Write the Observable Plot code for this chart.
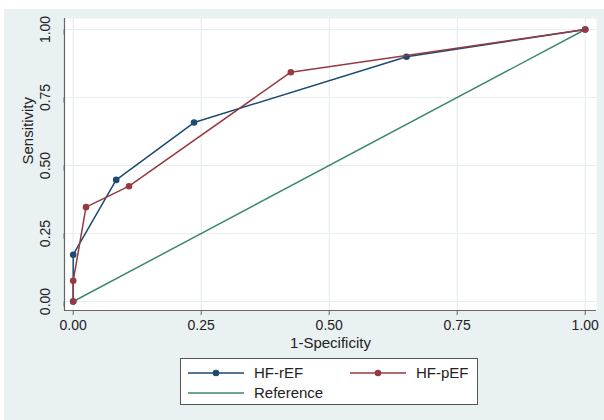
<!DOCTYPE html>
<html>
<head>
<meta charset="utf-8">
<script src="https://cdn.jsdelivr.net/npm/d3@7"></script>
<script src="https://cdn.jsdelivr.net/npm/@observablehq/plot@0.6"></script>
<style>
  html, body { margin: 0; padding: 0; background: #ffffff; }
  #wrap { position: relative; width: 604px; height: 420px; overflow: hidden; background: #ffffff; font-family: "Liberation Sans", Arial, sans-serif; }
  #bg { position: absolute; left: 4px; top: 9px; right: 0; bottom: 0; background: #e9f1f3; }
  #chart { position: absolute; left: 0; top: 0; }
  #legend { position: absolute; left: 180px; top: 358px; width: 296px; height: 45px; border: 1px solid #555; background: #ffffff; }
  .item { position: absolute; height: 20px; }
  .item svg { position: absolute; left: 0; top: 0; }
  .item span { position: absolute; top: 1px; font-size: 15px; color: #222; white-space: nowrap; }
</style>
</head>
<body>
<div id="wrap">
  <div id="bg"></div>
  <div id="chart"></div>
  <div id="legend"></div>
</div>
<script>
// ---- data ----
const seriesNames = ["HF-rEF", "HF-pEF", "Reference"];
const rEF_fpr  = [0, 0, 0.084, 0.236, 0.651, 1];
const rEF_sens = [0, 0.172, 0.447, 0.658, 0.900, 1];
const pEF_fpr  = [0, 0, 0.025, 0.109, 0.425, 1];
const pEF_sens = [0, 0.076, 0.347, 0.424, 0.843, 1];
const ref_x = [0, 1];
const ref_y = [0, 1];
const xTicks = [0, 0.25, 0.5, 0.75, 1];
const yTicks = [0, 0.25, 0.5, 0.75, 1];
const xTitle = "1-Specificity";
const yTitle = "Sensitivity";

// ---- styles ----
const colors = {"HF-rEF": "#1b4a72", "HF-pEF": "#943a40", "Reference": "#3d8a6c"};
const font = "'Liberation Sans', Arial, sans-serif";

const rEF = rEF_fpr.map((x, i) => ({x, y: rEF_sens[i]}));
const pEF = pEF_fpr.map((x, i) => ({x, y: pEF_sens[i]}));
const ref = ref_x.map((x, i) => ({x, y: ref_y[i]}));

const xDomain = [-0.017, 1.022];
const yDomain = [-0.033, 1.0404];
const fmt = d3.format(".2f");

const chart = Plot.plot({
  width: 604,
  height: 352,
  marginLeft: 64,
  marginRight: 8,
  marginTop: 18,
  marginBottom: 42,
  style: {background: "transparent", fontFamily: font, color: "#222"},
  x: {domain: xDomain},
  y: {domain: yDomain},
  marks: [
    Plot.frame({fill: "white", stroke: null}),
    Plot.gridX(xTicks, {stroke: "#e6eef1", strokeOpacity: 1, strokeWidth: 1.2}),
    Plot.gridY(yTicks, {stroke: "#e6eef1", strokeOpacity: 1, strokeWidth: 1.2}),
    Plot.ruleX([xDomain[0]], {stroke: "#666", strokeWidth: 1.2}),
    Plot.ruleY([yDomain[0]], {stroke: "#666", strokeWidth: 1.2}),
    Plot.axisX({ticks: xTicks, tickFormat: fmt, tickSize: 5, tickPadding: 5, fontSize: 14, stroke: "#666", fill: "#222", label: null}),
    Plot.axisY({ticks: yTicks, tickFormat: fmt, tickSize: 5, tickPadding: 14, fontSize: 14, rotate: -90, textAnchor: "middle", stroke: "#666", fill: "#222", label: null}),
    Plot.text([xTitle], {frameAnchor: "bottom", dy: 33, fontSize: 15, fill: "#222", lineAnchor: "middle"}),
    Plot.text([yTitle], {frameAnchor: "left", dx: -36, rotate: -90, fontSize: 15, fill: "#222", lineAnchor: "middle"}),
    Plot.line(ref, {x: "x", y: "y", stroke: colors["Reference"], strokeWidth: 1.5}),
    Plot.line(rEF, {x: "x", y: "y", stroke: colors["HF-rEF"], strokeWidth: 1.5}),
    Plot.dot(rEF, {x: "x", y: "y", r: 3.3, fill: colors["HF-rEF"], stroke: null}),
    Plot.line(pEF, {x: "x", y: "y", stroke: colors["HF-pEF"], strokeWidth: 1.5}),
    Plot.dot(pEF, {x: "x", y: "y", r: 3.3, fill: colors["HF-pEF"], stroke: null})
  ]
});
document.getElementById("chart").appendChild(chart);

// ---- legend ----
const legend = document.getElementById("legend");
const items = [
  {name: seriesNames[0], left: 6, top: 4, marker: true},
  {name: seriesNames[1], left: 168, top: 4, marker: true},
  {name: seriesNames[2], left: 6, top: 24, marker: false}
];
for (const it of items) {
  const d = document.createElement("div");
  d.className = "item";
  d.style.left = it.left + "px";
  d.style.top = it.top + "px";
  const c = colors[it.name];
  d.innerHTML = `<svg width="60" height="20"><line x1="1" x2="57" y1="10" y2="10" stroke="${c}" stroke-width="1.5"/>${it.marker ? `<circle cx="29" cy="10" r="3.3" fill="${c}"/>` : ""}</svg><span style="left:67px">${it.name}</span>`;
  legend.appendChild(d);
}
</script>
</body>
</html>
